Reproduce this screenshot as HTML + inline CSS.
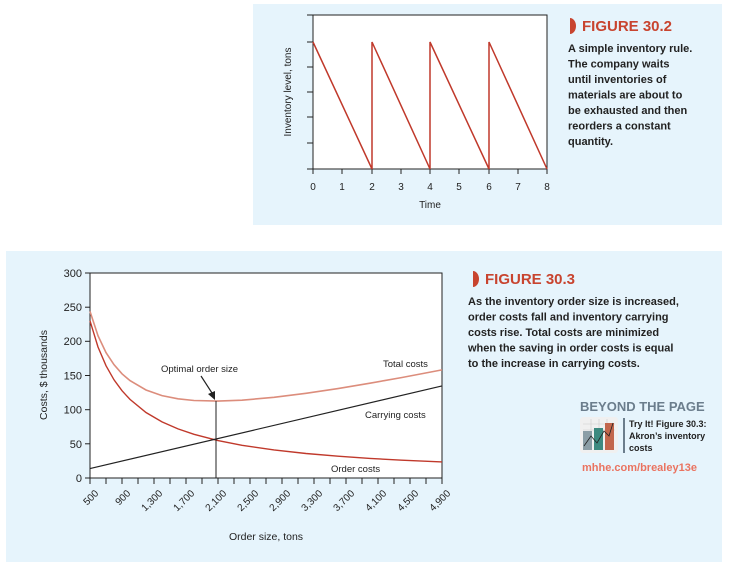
<!DOCTYPE html>
<html><head><meta charset="utf-8"><style>
body{margin:0;width:729px;height:569px;background:#fff;overflow:hidden}
svg{display:block;font-family:"Liberation Sans",sans-serif}
</style></head><body>
<svg width="729" height="569" viewBox="0 0 729 569">
<rect x="253" y="4" width="469" height="221" fill="#e6f4fc"/>
<rect x="6" y="251" width="716" height="311" fill="#e6f4fc"/>
<!-- top chart -->
<rect x="313" y="15" width="234" height="154" fill="#fff" stroke="#222" stroke-width="1"/>
<g stroke="#222" stroke-width="1">
<line x1="307" y1="15" x2="313" y2="15"/><line x1="307" y1="42" x2="313" y2="42"/><line x1="307" y1="67" x2="313" y2="67"/><line x1="307" y1="92" x2="313" y2="92"/><line x1="307" y1="117" x2="313" y2="117"/><line x1="307" y1="143" x2="313" y2="143"/><line x1="307" y1="169" x2="313" y2="169"/>
<line x1="313" y1="169" x2="313" y2="174"/><line x1="342" y1="169" x2="342" y2="174"/><line x1="372" y1="169" x2="372" y2="174"/><line x1="401" y1="169" x2="401" y2="174"/><line x1="430" y1="169" x2="430" y2="174"/><line x1="459" y1="169" x2="459" y2="174"/><line x1="489" y1="169" x2="489" y2="174"/><line x1="518" y1="169" x2="518" y2="174"/><line x1="547" y1="169" x2="547" y2="174"/>
</g>
<polyline points="313,42 372,169 372,42 430,169 430,42 489,169 489,42 547,169" fill="none" stroke="#c0392b" stroke-width="1.5"/>
<g font-size="10" fill="#222" text-anchor="middle">
<text x="313" y="190">0</text><text x="342" y="190">1</text><text x="372" y="190">2</text><text x="401" y="190">3</text><text x="430" y="190">4</text><text x="459" y="190">5</text><text x="489" y="190">6</text><text x="518" y="190">7</text><text x="547" y="190">8</text>
<text x="430" y="208" font-size="10">Time</text>
<text transform="translate(291,92) rotate(-90)" font-size="10">Inventory level, tons</text>
</g>
<path d="M570,18 a6,8 0 0 1 0,16 z" fill="#c8442f"/>
<text x="582" y="31" font-size="15" fill="#c8442f" font-weight="bold">FIGURE 30.2</text>
<g font-size="11" font-weight="bold" fill="#222">
<text x="568" y="52">A simple inventory rule.</text>
<text x="568" y="67.5">The company waits</text>
<text x="568" y="83">until inventories of</text>
<text x="568" y="98.5">materials are about to</text>
<text x="568" y="114">be exhausted and then</text>
<text x="568" y="129.5">reorders a constant</text>
<text x="568" y="145">quantity.</text>
</g>
<!-- bottom chart -->
<rect x="90" y="273" width="352" height="205" fill="#fff" stroke="#222" stroke-width="1"/>
<g stroke="#222" stroke-width="1">
<line x1="85" y1="273" x2="90" y2="273"/><line x1="85" y1="307.2" x2="90" y2="307.2"/><line x1="85" y1="341.3" x2="90" y2="341.3"/><line x1="85" y1="375.5" x2="90" y2="375.5"/><line x1="85" y1="409.7" x2="90" y2="409.7"/><line x1="85" y1="443.8" x2="90" y2="443.8"/><line x1="85" y1="478" x2="90" y2="478"/>
<path d="M90,478v6M106,478v6M122,478v6M138,478v6M154,478v6M170,478v6M186,478v6M202,478v6M218,478v6M234,478v6M250,478v6M266,478v6M282,478v6M298,478v6M314,478v6M330,478v6M346,478v6M362,478v6M378,478v6M394,478v6M410,478v6M426,478v6M442,478v6"/>
</g>
<g font-size="11" fill="#222" text-anchor="end">
<text x="82" y="277">300</text><text x="82" y="311">250</text><text x="82" y="345">200</text><text x="82" y="379.5">150</text><text x="82" y="413.5">100</text><text x="82" y="448">50</text><text x="82" y="482">0</text>
</g>
<g font-size="10" fill="#222" text-anchor="end">
<text transform="translate(99,494) rotate(-45)">500</text>
<text transform="translate(131,494) rotate(-45)">900</text>
<text transform="translate(163,494) rotate(-45)">1,300</text>
<text transform="translate(195,494) rotate(-45)">1,700</text>
<text transform="translate(227,494) rotate(-45)">2,100</text>
<text transform="translate(259,494) rotate(-45)">2,500</text>
<text transform="translate(291,494) rotate(-45)">2,900</text>
<text transform="translate(323,494) rotate(-45)">3,300</text>
<text transform="translate(355,494) rotate(-45)">3,700</text>
<text transform="translate(387,494) rotate(-45)">4,100</text>
<text transform="translate(419,494) rotate(-45)">4,500</text>
<text transform="translate(451,494) rotate(-45)">4,900</text>
</g>
<text x="266" y="540" font-size="10.5" fill="#222" text-anchor="middle">Order size, tons</text>
<text transform="translate(47,375) rotate(-90)" font-size="10.5" fill="#222" text-anchor="middle">Costs, $ thousands</text>
<polyline fill="none" stroke="#c0392b" stroke-width="1.4" points="90,320.8 98,347 106,365.7 114,379.8 122,390.7 130,399.4 146,412.5 162,421.9 178,428.9 194,434.3 218,440.6 242,445.3 274,449.9 306,453.5 338,456.2 370,458.4 402,460.2 442,461.9"/>
<polyline fill="none" stroke="#dc8d7c" stroke-width="1.6" points="90,311.4 98,335.7 106,352.6 114,364.7 122,373.8 130,380.6 146,390 162,395.6 178,398.8 194,400.5 218,401.1 242,400.2 274,397.3 306,393.3 338,388.6 370,383.2 402,377.5 442,369.9"/>
<line x1="90" y1="468.6" x2="442" y2="385.9" stroke="#222" stroke-width="1.2"/>
<line x1="216" y1="401" x2="216" y2="478" stroke="#222" stroke-width="1"/>
<line x1="201" y1="376" x2="212" y2="393" stroke="#222" stroke-width="1.2"/>
<path d="M215,400 l-7,-6 l7,-3 z" fill="#222"/>
<g font-size="9.5" fill="#222">
<text x="161" y="372">Optimal order size</text>
<text x="383" y="367">Total costs</text>
<text x="365" y="418">Carrying costs</text>
<text x="331" y="472">Order costs</text>
</g>
<path d="M473,271 a6,8 0 0 1 0,16 z" fill="#c8442f"/>
<text x="485" y="284" font-size="15" fill="#c8442f" font-weight="bold">FIGURE 30.3</text>
<g font-size="11" font-weight="bold" fill="#222">
<text x="468" y="305">As the inventory order size is increased,</text>
<text x="468" y="320.5">order costs fall and inventory carrying</text>
<text x="468" y="336">costs rise. Total costs are minimized</text>
<text x="468" y="351.5">when the saving in order costs is equal</text>
<text x="468" y="367">to the increase in carrying costs.</text>
</g>
<text x="580" y="411" font-size="13" font-weight="bold" fill="#6b7d8c">BEYOND THE PAGE</text>
<rect x="580" y="417" width="38" height="36" rx="3" fill="#f0f0f0"/>
<g stroke="#ccc" stroke-width="0.6"><line x1="583" y1="424" x2="615" y2="424"/><line x1="583" y1="430" x2="615" y2="430"/><line x1="591" y1="419" x2="591" y2="450"/><line x1="599" y1="419" x2="599" y2="450"/><line x1="607" y1="419" x2="607" y2="450"/></g>
<rect x="583" y="431" width="9" height="19" fill="#8c9ea6"/>
<rect x="594" y="428" width="9" height="22" fill="#3d8a80"/>
<rect x="605" y="423" width="9" height="27" fill="#c2664c"/>
<polyline points="584,446 591,436 597,443 604,431 609,436 613,423" fill="none" stroke="#222" stroke-width="0.8"/>
<rect x="623" y="418" width="2" height="35" fill="#6b7d8c"/>
<g font-size="9" font-weight="bold" fill="#222">
<text x="629" y="427">Try It! Figure 30.3:</text>
<text x="629" y="439">Akron’s inventory</text>
<text x="629" y="451">costs</text>
</g>
<text x="582" y="471" font-size="11" font-weight="bold" fill="#ea7360">mhhe.com/brealey13e</text>
</svg>
</body></html>
